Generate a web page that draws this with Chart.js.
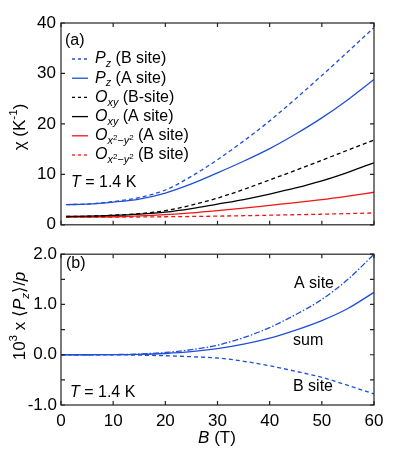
<!DOCTYPE html>
<html>
<head>
<meta charset="utf-8">
<script src="https://cdn.jsdelivr.net/npm/chart.js@4.4.0/dist/chart.umd.min.js"></script>
<style>
  html, body { margin: 0; padding: 0; background: #fff; }
  #wrap { position: relative; width: 415px; height: 451px; }
  canvas { position: absolute; left: 0; }
  #topChart { top: 0; }
  #botChart { top: 240px; }
</style>
</head>
<body>
<div id="wrap">
  <canvas id="topChart" width="415" height="240" style="width:415px;height:240px"></canvas>
  <canvas id="botChart" width="415" height="211" style="width:415px;height:211px"></canvas>
</div>
<script>
// ---- data ----
// panel (a): susceptibility chi (K^-1) vs B (T)
const fieldA = [1, 5, 10, 15, 20, 25, 30, 35, 40, 45, 50, 55, 60];
const pzBSite = [4.0, 4.1, 4.6, 5.4, 6.9, 9.6, 12.9, 16.6, 20.6, 25.0, 29.6, 34.3, 39.1];
const pzASite = [4.0, 4.1, 4.5, 5.1, 6.3, 8.1, 10.3, 12.6, 15.1, 18.0, 21.2, 24.8, 28.8];
const oxyBSite = [1.65, 1.7, 1.9, 2.2, 2.8, 3.9, 5.3, 7.0, 8.9, 10.8, 12.8, 14.8, 16.8];
const oxyASite = [1.65, 1.7, 1.85, 2.1, 2.5, 3.2, 4.1, 5.0, 6.1, 7.3, 8.7, 10.4, 12.3];
const ox2ASite = [1.5, 1.52, 1.6, 1.75, 2.0, 2.35, 2.8, 3.3, 3.85, 4.4, 5.0, 5.7, 6.45];
const ox2BSite = [1.5, 1.5, 1.52, 1.55, 1.6, 1.65, 1.72, 1.8, 1.9, 2.0, 2.1, 2.22, 2.35];

// panel (b): 10^3 x <Pz>/p vs B (T)
const fieldB = [0, 5, 10, 15, 20, 25, 30, 35, 40, 45, 50, 55, 60];
const aSite = [0, 0, 0.003, 0.015, 0.045, 0.10, 0.19, 0.34, 0.54, 0.80, 1.10, 1.50, 2.0];
const bSite = [0, 0, -0.002, -0.008, -0.02, -0.04, -0.065, -0.13, -0.22, -0.33, -0.45, -0.61, -0.78];
const sumSite = [0, 0, 0.001, 0.007, 0.025, 0.06, 0.12, 0.21, 0.33, 0.49, 0.68, 0.92, 1.24];

const xTicks = [0, 10, 20, 30, 40, 50, 60];
const yTicksA = [0, 10, 20, 30, 40];
const yTicksB = [-1, -0.5, 0, 0.5, 1, 1.5, 2];

const BLUE = '#1f4fd8';
const RED = '#f01414';
const BLACK = '#000';
const FONT = '"Liberation Sans", Arial, sans-serif';

const pts = (xs, ys) => xs.map((x, i) => ({ x, y: ys[i] }));

// ---- mixed-style text helper (italic / sub / sup) ----
function runFont(r, size) {
  let s = size;
  if (r.d === 'sub' || r.d === 'sup') s = size * 0.68;
  if (r.d === 'ss') s = size * 0.5;
  return (r.i ? 'italic ' : '') + s.toFixed(1) + 'px ' + FONT;
}
function runShift(r, size) {
  if (r.d === 'sub') return size * 0.32;
  if (r.d === 'sup') return -size * 0.38;
  if (r.d === 'ss') return size * 0.1;
  return 0;
}
function drawRuns(ctx, x, y, runs, size, align) {
  let w = 0;
  runs.forEach(r => { ctx.font = runFont(r, size); w += ctx.measureText(r.t).width; });
  let cx = align === 'center' ? x - w / 2 : x;
  ctx.textBaseline = 'middle';
  ctx.textAlign = 'left';
  runs.forEach(r => {
    ctx.font = runFont(r, size);
    ctx.fillText(r.t, cx, y + runShift(r, size));
    cx += ctx.measureText(r.t).width;
  });
}

const PZ = [{ t: 'P', i: true }, { t: 'z', i: true, d: 'sub' }];
const OXY = [{ t: 'O', i: true }, { t: 'xy', i: true, d: 'sub' }];
const OX2 = [{ t: 'O', i: true }, { t: 'x', i: true, d: 'sub' }, { t: '2', d: 'ss' },
             { t: '\u2212y', i: true, d: 'sub' }, { t: '2', d: 'ss' }];
const TEMP = [{ t: 'T', i: true }, { t: ' = 1.4 K' }];

// legend entries of panel (a), same order as the figure
const legendA = [
  { runs: PZ.concat([{ t: ' (B site)' }]), color: BLUE, dash: [3, 3] },
  { runs: PZ.concat([{ t: ' (A site)' }]), color: BLUE, dash: [] },
  { runs: OXY.concat([{ t: ' (B-site)' }]), color: BLACK, dash: [3, 3] },
  { runs: OXY.concat([{ t: ' (A site)' }]), color: BLACK, dash: [] },
  { runs: OX2.concat([{ t: ' (A site)' }]), color: RED, dash: [] },
  { runs: OX2.concat([{ t: ' (B site)' }]), color: RED, dash: [3, 3] },
];

// ---- frame with inward ticks on all four sides ----
function frameTicks(xt, yt) {
  return {
    id: 'frameTicks',
    afterDraw(chart) {
      const { ctx, chartArea: a, scales } = chart;
      const len = 4;
      ctx.save();
      ctx.strokeStyle = '#222';
      ctx.lineWidth = 1.2;
      ctx.beginPath();
      xt.forEach(v => {
        const px = scales.x.getPixelForValue(v);
        ctx.moveTo(px, a.bottom); ctx.lineTo(px, a.bottom - len);
        ctx.moveTo(px, a.top); ctx.lineTo(px, a.top + len);
      });
      yt.forEach(v => {
        const py = scales.y.getPixelForValue(v);
        ctx.moveTo(a.left, py); ctx.lineTo(a.left + len, py);
        ctx.moveTo(a.right, py); ctx.lineTo(a.right - len, py);
      });
      ctx.stroke();
      ctx.strokeRect(a.left, a.top, a.right - a.left, a.bottom - a.top);
      ctx.restore();
    }
  };
}

const textA = {
  id: 'textA',
  afterDraw(chart) {
    const ctx = chart.ctx;
    ctx.save();
    ctx.fillStyle = '#000';
    drawRuns(ctx, 65, 41, [{ t: '(a)' }], 16);
    legendA.forEach((e, i) => {
      const y = 59 + i * 19.2;
      ctx.save();
      ctx.strokeStyle = e.color;
      ctx.lineWidth = 1.3;
      ctx.setLineDash(e.dash);
      ctx.beginPath(); ctx.moveTo(72, y); ctx.lineTo(88, y); ctx.stroke();
      ctx.restore();
      drawRuns(ctx, 95, y, e.runs, 16);
    });
    drawRuns(ctx, 71, 183, TEMP, 16);
    ctx.translate(20, 127);
    ctx.rotate(-Math.PI / 2);
    drawRuns(ctx, 0, 0, [{ t: '\u03c7 (K' }, { t: '-1', d: 'sup' }, { t: ')' }], 17, 'center');
    ctx.restore();
  }
};

const textB = {
  id: 'textB',
  afterDraw(chart) {
    const ctx = chart.ctx;
    ctx.save();
    ctx.fillStyle = '#000';
    drawRuns(ctx, 66, 24, [{ t: '(b)' }], 16);
    drawRuns(ctx, 294, 44, [{ t: 'A site' }], 16);
    drawRuns(ctx, 293, 101, [{ t: 'sum' }], 16);
    drawRuns(ctx, 293, 147, [{ t: 'B site' }], 16);
    drawRuns(ctx, 70, 153, TEMP, 16);
    drawRuns(ctx, 217, 198, [{ t: 'B', i: true }, { t: ' (T)' }], 17, 'center');
    ctx.translate(20, 76);
    ctx.rotate(-Math.PI / 2);
    drawRuns(ctx, 0, 0, [{ t: '10' }, { t: '3', d: 'sup' }, { t: ' x \u27e8' }, { t: 'P', i: true },
      { t: 'z', i: true, d: 'sub' }, { t: '\u27e9/' }, { t: 'p', i: true }], 17, 'center');
    ctx.restore();
  }
};

const line = (data, color, dash) => ({
  data, borderColor: color, borderWidth: 1.3, borderDash: dash,
  pointRadius: 0, fill: false, cubicInterpolationMode: 'monotone'
});

const tickFont = { family: FONT, size: 17 };

new Chart(document.getElementById('topChart'), {
  type: 'line',
  data: {
    datasets: [
      line(pts(fieldA, pzBSite), BLUE, [4, 3]),
      line(pts(fieldA, pzASite), BLUE, []),
      line(pts(fieldA, oxyBSite), BLACK, [4, 3]),
      line(pts(fieldA, oxyASite), BLACK, []),
      line(pts(fieldA, ox2ASite), RED, []),
      line(pts(fieldA, ox2BSite), RED, [4, 3]),
    ]
  },
  options: {
    responsive: false, animation: false,
    layout: { padding: { top: 23, right: 41, bottom: 0, left: 0 } },
    plugins: { legend: { display: false }, tooltip: { enabled: false } },
    scales: {
      x: {
        type: 'linear', min: 0, max: 60,
        grid: { display: false, drawTicks: false }, border: { display: false },
        ticks: { display: false },
        afterFit(s) { s.height = 8; }
      },
      y: {
        min: 0, max: 40,
        grid: { display: false, drawTicks: false }, border: { display: false },
        ticks: { stepSize: 10, color: '#000', font: tickFont, padding: 5 },
        afterFit(s) { s.width = 61; }
      }
    }
  },
  plugins: [frameTicks(xTicks, yTicksA), textA]
});

new Chart(document.getElementById('botChart'), {
  type: 'line',
  data: {
    datasets: [
      line(pts(fieldB, aSite), BLUE, [6, 2, 1.5, 2]),
      line(pts(fieldB, sumSite), BLUE, []),
      line(pts(fieldB, bSite), BLUE, [4, 3]),
    ]
  },
  options: {
    responsive: false, animation: false,
    layout: { padding: { top: 9, right: 41, bottom: 0, left: 0 } },
    plugins: { legend: { display: false }, tooltip: { enabled: false } },
    scales: {
      x: {
        type: 'linear', min: 0, max: 60,
        grid: { display: false, drawTicks: false }, border: { display: false },
        ticks: { stepSize: 10, color: '#000', font: tickFont, padding: 6, maxRotation: 0 },
        afterFit(s) { s.height = 46; }
      },
      y: {
        min: -1, max: 2,
        grid: { display: false, drawTicks: false }, border: { display: false },
        ticks: {
          stepSize: 0.5, color: '#000', font: tickFont, padding: 4,
          callback: v => Number.isInteger(v) ? v.toFixed(1) : ''
        },
        afterFit(s) { s.width = 61; }
      }
    }
  },
  plugins: [frameTicks(xTicks, yTicksB), textB]
});
</script>
</body>
</html>
